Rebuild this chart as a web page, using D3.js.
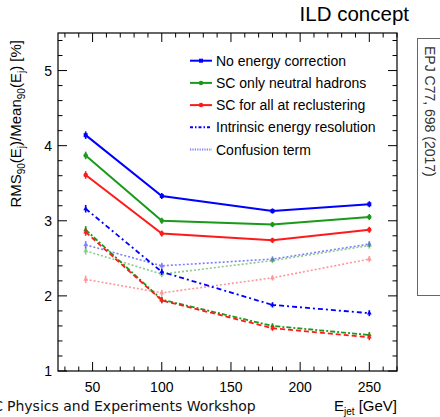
<!DOCTYPE html>
<html>
<head>
<meta charset="utf-8">
<script src="https://cdn.jsdelivr.net/npm/d3@7"></script>
<style>
  body { margin: 0; background: #fff; }
  svg { font-family: "Liberation Sans", Arial, sans-serif; }
</style>
</head>
<body>
<div id="chart"></div>
<script>
// energy points (GeV)
var energies = [45, 100, 180, 250];

// RMS90/Mean90 [%]
var noCorr       = [4.14, 3.33, 3.13, 3.22];
var scNeutral    = [3.87, 3.00, 2.95, 3.05];
var scAll        = [3.61, 2.83, 2.74, 2.88];
var intrNoCorr   = [3.16, 2.32, 1.88, 1.77];
var intrNeutral  = [2.88, 1.95, 1.60, 1.48];
var intrAll      = [2.85, 1.94, 1.57, 1.45];
var confNoCorr   = [2.68, 2.40, 2.49, 2.69];
var confNeutral  = [2.60, 2.29, 2.47, 2.67];
var confAll      = [2.22, 2.04, 2.24, 2.49];
var errSize      = [0.05, 0.04, 0.035, 0.04];

var legendLabels = ["No energy correction", "SC only neutral hadrons", "SC for all at reclustering",
                    "Intrinsic energy resolution", "Confusion term"];
var xTicks = [50, 100, 150, 200, 250];
var yTicks = [1, 2, 3, 4, 5];

var blue = "#0000ff", green = "#1a9a1a", red = "#ff1a1a";

var series = [
  { v: confNoCorr,  c: blue,  dash: "2,2", op: 0.5, w: 1.6, marker: "tri" },
  { v: confNeutral, c: green, dash: "2,2", op: 0.5, w: 1.6, marker: "tri" },
  { v: confAll,     c: red,   dash: "2,2", op: 0.45, w: 1.6, marker: "tri" },
  { v: intrNeutral, c: green, dash: "5,2,2,2", op: 1, w: 1.8, marker: "tri" },
  { v: intrAll,     c: red,   dash: "5,3", op: 1, w: 1.8, marker: "tri" },
  { v: intrNoCorr,  c: blue,  dash: "5,3,2,3", op: 1, w: 1.8, marker: "tri" },
  { v: noCorr,      c: blue,  dash: null, op: 1, w: 2, marker: "sq" },
  { v: scNeutral,   c: green, dash: null, op: 1, w: 2, marker: "circ" },
  { v: scAll,       c: red,   dash: null, op: 1, w: 2, marker: "circ" }
];

var W = 440, H = 417;
var margin = { left: 58, right: 43, top: 33, bottom: 46 };

var svg = d3.select("#chart").append("svg")
    .attr("width", W)
    .attr("height", H);

var x = d3.scaleLinear().domain([25, 270]).range([margin.left, W - margin.right]);
var y = d3.scaleLinear().domain([1, 5.5]).range([H - margin.bottom, margin.top]);

var x0 = x.range()[0], x1 = x.range()[1], y0 = y.range()[0], y1 = y.range()[1];

// frame
svg.append("rect")
    .attr("x", x0).attr("y", y1)
    .attr("width", x1 - x0).attr("height", y0 - y1)
    .attr("fill", "none").attr("stroke", "#000").attr("stroke-width", 1.2);

// ticks on all sides (inward)
var ticks = svg.append("g").attr("stroke", "#000").attr("stroke-width", 1);
d3.range(30, 271, 10).forEach(function(t) {
  var len = (t % 50 === 0) ? 9 : 4.5;
  ticks.append("line").attr("x1", x(t)).attr("x2", x(t)).attr("y1", y0).attr("y2", y0 - len);
  ticks.append("line").attr("x1", x(t)).attr("x2", x(t)).attr("y1", y1).attr("y2", y1 + len);
});
d3.range(10, 56, 2).forEach(function(k) {
  var t = k / 10;
  var len = (k % 10 === 0) ? 9 : 4.5;
  ticks.append("line").attr("y1", y(t)).attr("y2", y(t)).attr("x1", x0).attr("x2", x0 + len);
  ticks.append("line").attr("y1", y(t)).attr("y2", y(t)).attr("x1", x1).attr("x2", x1 - len);
});

// tick labels
svg.append("g").selectAll("text").data(xTicks).enter().append("text")
    .attr("x", function(d) { return x(d); })
    .attr("y", 392)
    .attr("text-anchor", "middle")
    .attr("font-size", 14)
    .text(function(d) { return d; });

svg.append("g").selectAll("text").data(yTicks).enter().append("text")
    .attr("x", 52)
    .attr("y", function(d) { return y(d) + 5; })
    .attr("text-anchor", "end")
    .attr("font-size", 14)
    .text(function(d) { return d; });

// lines
var line = d3.line()
    .x(function(d, i) { return x(energies[i]); })
    .y(function(d) { return y(d); });

series.forEach(function(s) {
  var g = svg.append("g").attr("opacity", s.op);
  g.append("path")
      .attr("d", line(s.v))
      .attr("fill", "none")
      .attr("stroke", s.c)
      .attr("stroke-width", s.w)
      .attr("stroke-dasharray", s.dash);
  // error bars
  g.selectAll("line.err").data(s.v).enter().append("line")
      .attr("x1", function(d, i) { return x(energies[i]); })
      .attr("x2", function(d, i) { return x(energies[i]); })
      .attr("y1", function(d, i) { return y(d + errSize[i]); })
      .attr("y2", function(d, i) { return y(d - errSize[i]); })
      .attr("stroke", s.c).attr("stroke-width", 1.6);
  // markers
  g.selectAll("path.m").data(s.v).enter().append("path")
      .attr("transform", function(d, i) { return "translate(" + x(energies[i]) + "," + y(d) + ")"; })
      .attr("d", d3.symbol()
        .type(s.marker === "sq" ? d3.symbolSquare : (s.marker === "circ" ? d3.symbolCircle : d3.symbolTriangle))
        .size(s.marker === "tri" ? 10 : 16))
      .attr("fill", s.c);
});

// legend
var legend = [
  { c: blue, dash: null, op: 1, marker: "sq" },
  { c: green, dash: null, op: 1, marker: "circ" },
  { c: red, dash: null, op: 1, marker: "circ" },
  { c: blue, dash: "3,2,1.5,2", op: 1, marker: null },
  { c: blue, dash: "1.2,1.2", op: 0.5, marker: null }
];
var lg = svg.append("g");
legend.forEach(function(l, i) {
  var ly = 60.7 + i * 22.2;
  lg.append("line")
      .attr("x1", 190).attr("x2", 212).attr("y1", ly).attr("y2", ly)
      .attr("stroke", l.c).attr("stroke-width", 2).attr("opacity", l.op)
      .attr("stroke-dasharray", l.dash);
  if (l.marker) {
    lg.append("path")
        .attr("transform", "translate(201," + ly + ")")
        .attr("d", d3.symbol().type(l.marker === "sq" ? d3.symbolSquare : d3.symbolCircle).size(16))
        .attr("fill", l.c);
  }
  lg.append("text")
      .attr("x", 216).attr("y", ly + 5)
      .attr("font-size", 14)
      .text(legendLabels[i]);
});

// title
svg.append("text")
    .attr("x", 409).attr("y", 21)
    .attr("text-anchor", "end")
    .attr("font-size", 20.5)
    .text("ILD concept");

// y axis title
var yt = svg.append("text")
    .attr("transform", "translate(21,40) rotate(-90)")
    .attr("text-anchor", "end")
    .attr("font-size", 15);
yt.append("tspan").text("RMS");
yt.append("tspan").attr("font-size", 10).attr("dy", 4).text("90");
yt.append("tspan").attr("dy", -4).text("(E");
yt.append("tspan").attr("font-size", 10).attr("dy", 4).text("j");
yt.append("tspan").attr("dy", -4).text(")/Mean");
yt.append("tspan").attr("font-size", 10).attr("dy", 4).text("90");
yt.append("tspan").attr("dy", -4).text("(E");
yt.append("tspan").attr("font-size", 10).attr("dy", 4).text("j");
yt.append("tspan").attr("dy", -4).text(") [%]");

// x axis title
var xt = svg.append("text")
    .attr("x", 397).attr("y", 411)
    .attr("text-anchor", "end")
    .attr("font-size", 15);
xt.append("tspan").text("E");
xt.append("tspan").attr("font-size", 10).attr("dy", 4).text("jet");
xt.append("tspan").attr("dy", -4).text(" [GeV]");

// workshop footer (left edge cut, as in the original)
svg.append("text")
    .attr("x", 3).attr("y", 411)
    .attr("text-anchor", "end")
    .attr("font-family", "DejaVu Sans, sans-serif")
    .attr("font-size", 14)
    .attr("fill", "#111")
    .text("C");
svg.append("text")
    .attr("x", 7).attr("y", 411)
    .attr("font-family", "DejaVu Sans, sans-serif")
    .attr("font-size", 14)
    .attr("fill", "#111")
    .text("Physics and Experiments Workshop");

// reference box
svg.append("rect")
    .attr("x", 417.5).attr("y", 38.5)
    .attr("width", 30).attr("height", 257)
    .attr("fill", "none").attr("stroke", "#666").attr("stroke-width", 1);
svg.append("text")
    .attr("transform", "translate(425,46) rotate(90)")
    .attr("font-size", 14)
    .attr("fill", "#333")
    .text("EPJ C77, 698 (2017)");
</script>
</body>
</html>
